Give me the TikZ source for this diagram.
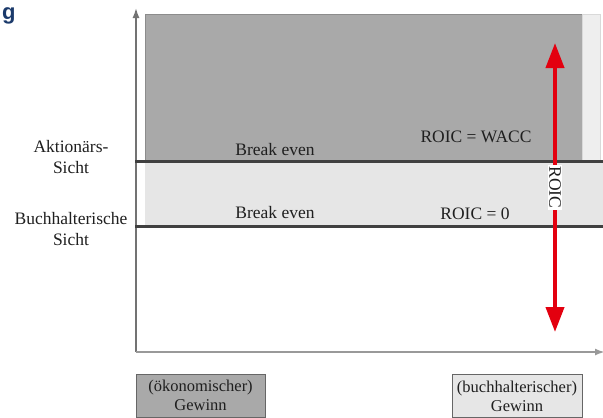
\documentclass[tikz,border=0pt]{standalone}
\usepackage{fontspec}
\setmainfont{Liberation Serif}
\newfontfamily\titlefont{Liberation Sans}
\usepackage{xcolor}
\usetikzlibrary{arrows.meta}
\usetikzlibrary{positioning}
\definecolor{darkband}{HTML}{A9A9A9}
\definecolor{lightband}{HTML}{E6E6E6}
\definecolor{sidestrip}{HTML}{EEEEEE}
\definecolor{roicred}{HTML}{E3000F}
\definecolor{titleblue}{HTML}{1B3A6B}
\tikzset{
  >=latex,
  % Common text styles
  bigtext/.style={font=\fontsize{17.5}{21}\selectfont, text=black!88},
  boxtext/.style={font=\fontsize{16.5}{19}\selectfont, text=black!88}
}

\begin{document}
\begin{tikzpicture}[
    x=1pt, y=-1pt,
    axis/.style={draw=black!55, line width=1.5pt, -{Latex[length=10pt,width=7pt]}},
    evenline/.style={draw=black!75, line width=3pt},
    label/.style={bigtext, align=center},
    legend/.style={rectangle, draw=black!60, line width=1pt, boxtext, align=center,
                   minimum width=129pt, minimum height=43pt, inner sep=0pt},
    roicarrow/.style={draw=roicred, line width=4pt,
                      {Triangle[length=25pt,width=18pt]}-{Triangle[length=25pt,width=18pt]}},
    roiclabel/.style={bigtext, fill=white, rotate=-90, inner sep=1.5pt}
]
\useasboundingbox (0,0) rectangle (603,418);

% Title fragment
\node[font=\titlefont\bfseries\fontsize{22}{22}\selectfont, text=titleblue,
      anchor=base west, inner sep=0pt] (title) at (2,19) {g};

% Bands
\draw[fill=darkband, draw=black!45] (145,14) rectangle (582,161);
\draw[fill=sidestrip, draw=black!15] (582,14) rectangle (600,161);
\fill[lightband] (145,161) rectangle (603,226);

% Axes
\coordinate (origin) at (136,352);
\coordinate (ytip) at (136,8);
\coordinate (xtip) at (605,352);
\draw[axis] (origin) -- (ytip);
\draw[axis, draw=black!40, line width=2pt] (origin) -- (xtip);

% Break even lines
\coordinate (shareholder_l) at (135,161);
\coordinate (shareholder_r) at (603,161);
\coordinate (accounting_l) at (135,226);
\coordinate (accounting_r) at (603,226);
\draw[evenline] (shareholder_l) -- (shareholder_r);
\draw[evenline] (accounting_l) -- (accounting_r);

% Labels
\node[label] (shareholder) at (71,157) {Aktionärs-\\Sicht};
\node[label] (accounting) at (71,229) {Buchhalterische\\Sicht};
\node[bigtext] (even_top) at (275,150) {Break even};
\node[bigtext] (even_bot) at (275,213) {Break even};
\node[bigtext] (wacc) at (476,137) {ROIC = WACC};
\node[bigtext] (zero) at (475,214) {ROIC = 0};

% ROIC arrow
\coordinate (roictop) at (555,43);
\coordinate (roicbot) at (555,332);
\draw[roicarrow] (roicbot) -- node[roiclabel] (roic) {ROIC} (roictop);

% Legend
\node[legend, fill=darkband] (econ) at (200.5,395.5) {(ökonomischer)\\Gewinn};
\node[legend, fill=lightband, minimum width=130pt] (book) at (517,396) {(buchhalterischer)\\Gewinn};

\end{tikzpicture}
\end{document}
